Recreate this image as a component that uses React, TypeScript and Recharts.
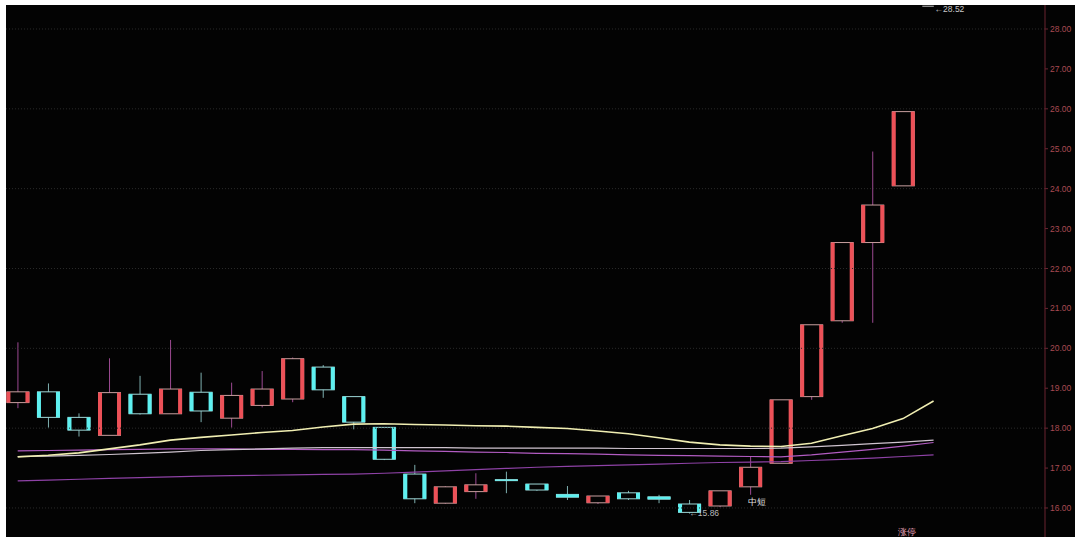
import React from "react";
import {
  ComposedChart,
  Bar,
  Line,
  XAxis,
  YAxis,
  ReferenceLine,
  ReferenceDot,
} from "recharts";

// daily candles, oldest first (last one is a one-price limit-up day)
const opens = [18.64, 18.91, 18.27, 17.82, 18.85, 18.36, 18.9, 18.25, 18.57, 18.73, 19.53, 18.79, 18.02, 16.85, 16.12, 16.41, 16.71, 16.6, 16.34, 16.13, 16.38, 16.28, 16.1, 16.05, 16.53, 17.12, 18.79, 20.69, 22.65, 24.07, 28.52];
const closes = [18.91, 18.27, 17.95, 18.89, 18.36, 18.98, 18.43, 18.82, 18.98, 19.74, 18.96, 18.15, 17.22, 16.23, 16.53, 16.58, 16.69, 16.45, 16.27, 16.3, 16.23, 16.22, 15.89, 16.43, 17.02, 18.71, 20.59, 22.65, 23.59, 25.93, 28.52];
const highs = [20.15, 19.12, 18.37, 19.75, 19.31, 20.21, 19.39, 19.14, 19.43, 19.77, 19.58, 18.8, 18.03, 17.08, 16.55, 16.87, 16.91, 16.61, 16.55, 16.31, 16.43, 16.33, 16.2, 16.44, 17.29, 18.72, 20.59, 22.65, 24.93, 25.93, 28.52];
const lows = [18.5, 18.01, 17.79, 17.82, 18.34, 18.36, 18.15, 18.01, 18.52, 18.65, 18.76, 17.97, 17.2, 16.12, 16.1, 16.23, 16.37, 16.43, 16.2, 16.1, 16.2, 16.12, 15.86, 16.02, 16.33, 17.12, 18.71, 20.64, 20.64, 24.07, 28.52];

// moving averages
const maYellow = [17.28, 17.32, 17.38, 17.48, 17.58, 17.7, 17.77, 17.83, 17.89, 17.94, 18.03, 18.1, 18.11, 18.09, 18.08, 18.06, 18.05, 18.02, 17.99, 17.93, 17.86, 17.76, 17.65, 17.58, 17.55, 17.54, 17.62, 17.81, 17.99, 18.24, 18.68];
const maGray = [17.29, 17.3, 17.32, 17.34, 17.37, 17.4, 17.44, 17.46, 17.48, 17.5, 17.51, 17.51, 17.51, 17.51, 17.51, 17.5, 17.5, 17.5, 17.5, 17.5, 17.49, 17.49, 17.49, 17.49, 17.49, 17.5, 17.53, 17.57, 17.61, 17.65, 17.7];
const maPurple = [17.43, 17.44, 17.45, 17.46, 17.47, 17.48, 17.48, 17.48, 17.47, 17.47, 17.46, 17.46, 17.45, 17.43, 17.42, 17.4, 17.39, 17.37, 17.36, 17.35, 17.33, 17.32, 17.31, 17.3, 17.29, 17.28, 17.33, 17.4, 17.47, 17.55, 17.64];
const maViolet = [16.68, 16.7, 16.72, 16.74, 16.76, 16.78, 16.8, 16.81, 16.82, 16.83, 16.84, 16.85, 16.87, 16.9, 16.93, 16.96, 16.99, 17.02, 17.04, 17.06, 17.08, 17.1, 17.12, 17.14, 17.15, 17.16, 17.19, 17.22, 17.25, 17.29, 17.33];

const priceTicks = [16, 17, 18, 19, 20, 21, 22, 23, 24, 25, 26, 27, 28];
const gridValues = [16, 18, 20, 22, 24, 26, 28];

const Y_MIN = 15.273;
const Y_MAX = 28.601;

const RED = "#ec5158";
const CYAN = "#5ef0f0";

const data = opens.map((open, i) => ({
  i,
  open,
  close: closes[i],
  high: highs[i],
  low: lows[i],
  range: [lows[i], highs[i]],
  ma1: maYellow[i],
  ma2: maGray[i],
  ma3: maPurple[i],
  ma4: maViolet[i],
}));

const Candle = (props: any) => {
  const { x, y, width, height, payload } = props;
  const { open, close, high, low } = payload;
  const cx = x + width / 2;
  const span = high - low;
  const toY = (v: number) => (span === 0 ? y : y + ((high - v) / span) * height);

  if (span === 0) {
    return <line x1={x} x2={x + width / 2} y1={y - 2} y2={y - 2} stroke="#bdbdbd" strokeWidth={1} />;
  }

  const up = close >= open;
  const color = up ? RED : CYAN;
  const wick = up ? "#9c4a92" : "#7fb0b0";
  const top = toY(Math.max(open, close));
  const bottom = toY(Math.min(open, close));
  const bh = Math.max(bottom - top, 1);
  const side = bh > 3 ? 4 : 0;

  return (
    <g>
      {top - y > 0.5 && <line x1={cx} x2={cx} y1={y} y2={top} stroke={wick} strokeWidth={1} />}
      {y + height - bottom > 0.5 && (
        <line x1={cx} x2={cx} y1={bottom} y2={y + height} stroke={wick} strokeWidth={1} />
      )}
      <rect x={x + 0.5} y={top} width={width - 1} height={bh} fill="none" stroke={up ? "#c9a0a0" : "#9fd8d8"} strokeWidth={1} />
      {side > 0 && (
        <>
          <rect x={x} y={top} width={side} height={bh} fill={color} />
          <rect x={x + width - side} y={top} width={side} height={bh} fill={color} />
        </>
      )}
      {side === 0 && <rect x={x} y={top} width={width} height={bh} fill={color} />}
    </g>
  );
};

const noteLabel = (text: string, dx: number, dy: number, color: string, anchor: "start" | "middle" = "start") =>
  (p: any) => {
    const vb = p.viewBox || {};
    return (
      <text
        x={(vb.x ?? 0) + dx}
        y={(vb.y ?? 0) + dy}
        fill={color}
        fontSize={8.5}
        fontFamily="Liberation Sans, Arial, sans-serif"
        textAnchor={anchor}
        dominantBaseline="middle"
      >
        {text}
      </text>
    );
  };

export default function App() {
  return (
    <div style={{ position: "absolute", left: 0, top: 0, width: 1080, height: 542, background: "#ffffff" }}>
      <div style={{ position: "absolute", left: 6, top: 5, width: 1069, height: 532, background: "#030303" }} />
      <div style={{ position: "absolute", left: 0, top: 0 }}>
        <ComposedChart width={1080} height={542} data={data} margin={{ top: 5, right: 5, bottom: 5, left: 6 }}>
          <XAxis dataKey="i" type="number" domain={[-0.383, 33.65]} hide allowDataOverflow />
          <YAxis
            orientation="right"
            type="number"
            domain={[Y_MIN, Y_MAX]}
            allowDataOverflow
            ticks={priceTicks}
            interval={0}
            width={30}
            tickFormatter={(v: number) => v.toFixed(2)}
            axisLine={{ stroke: "#6a2430" }}
            tickLine={{ stroke: "#6a2430" }}
            tickSize={3}
            tickMargin={2}
            tick={{ fill: "#a84a52", fontSize: 8.5, fontFamily: "Liberation Sans, Arial, sans-serif" }}
          />
          {gridValues.map((v) => (
            <ReferenceLine key={v} y={v} stroke="#2a2a2a" strokeDasharray="1 2" />
          ))}
          <Line dataKey="ma4" stroke="#8e42a6" strokeWidth={1.2} dot={false} isAnimationActive={false} />
          <Line dataKey="ma3" stroke="#b25cc2" strokeWidth={1.2} dot={false} isAnimationActive={false} />
          <Line dataKey="ma2" stroke="#cfc4cf" strokeWidth={1.2} dot={false} isAnimationActive={false} />
          <Line dataKey="ma1" stroke="#f0eeb2" strokeWidth={1.6} dot={false} isAnimationActive={false} />
          <Bar dataKey="range" barSize={23} shape={<Candle />} isAnimationActive={false} />
          <ReferenceDot x={22} y={lows[22]} r={0} fill="none" stroke="none" label={{ content: noteLabel("←15.86", 0, 0, "#b8b8b8") }} />
          <ReferenceDot x={30} y={highs[30]} r={0} fill="none" stroke="none" label={{ content: noteLabel("←28.52", 1, 2, "#c8c8c8") }} />
          <ReferenceDot x={24} y={lows[24]} r={0} fill="none" stroke="none" label={{ content: noteLabel("中短", 7, 8, "#e0e0e0", "middle") }} />
          <ReferenceDot x={29} y={Y_MIN} r={0} fill="none" stroke="none" label={{ content: noteLabel("涨停", 4, -4, "#e8a0b8", "middle") }} />
        </ComposedChart>
      </div>
    </div>
  );
}
